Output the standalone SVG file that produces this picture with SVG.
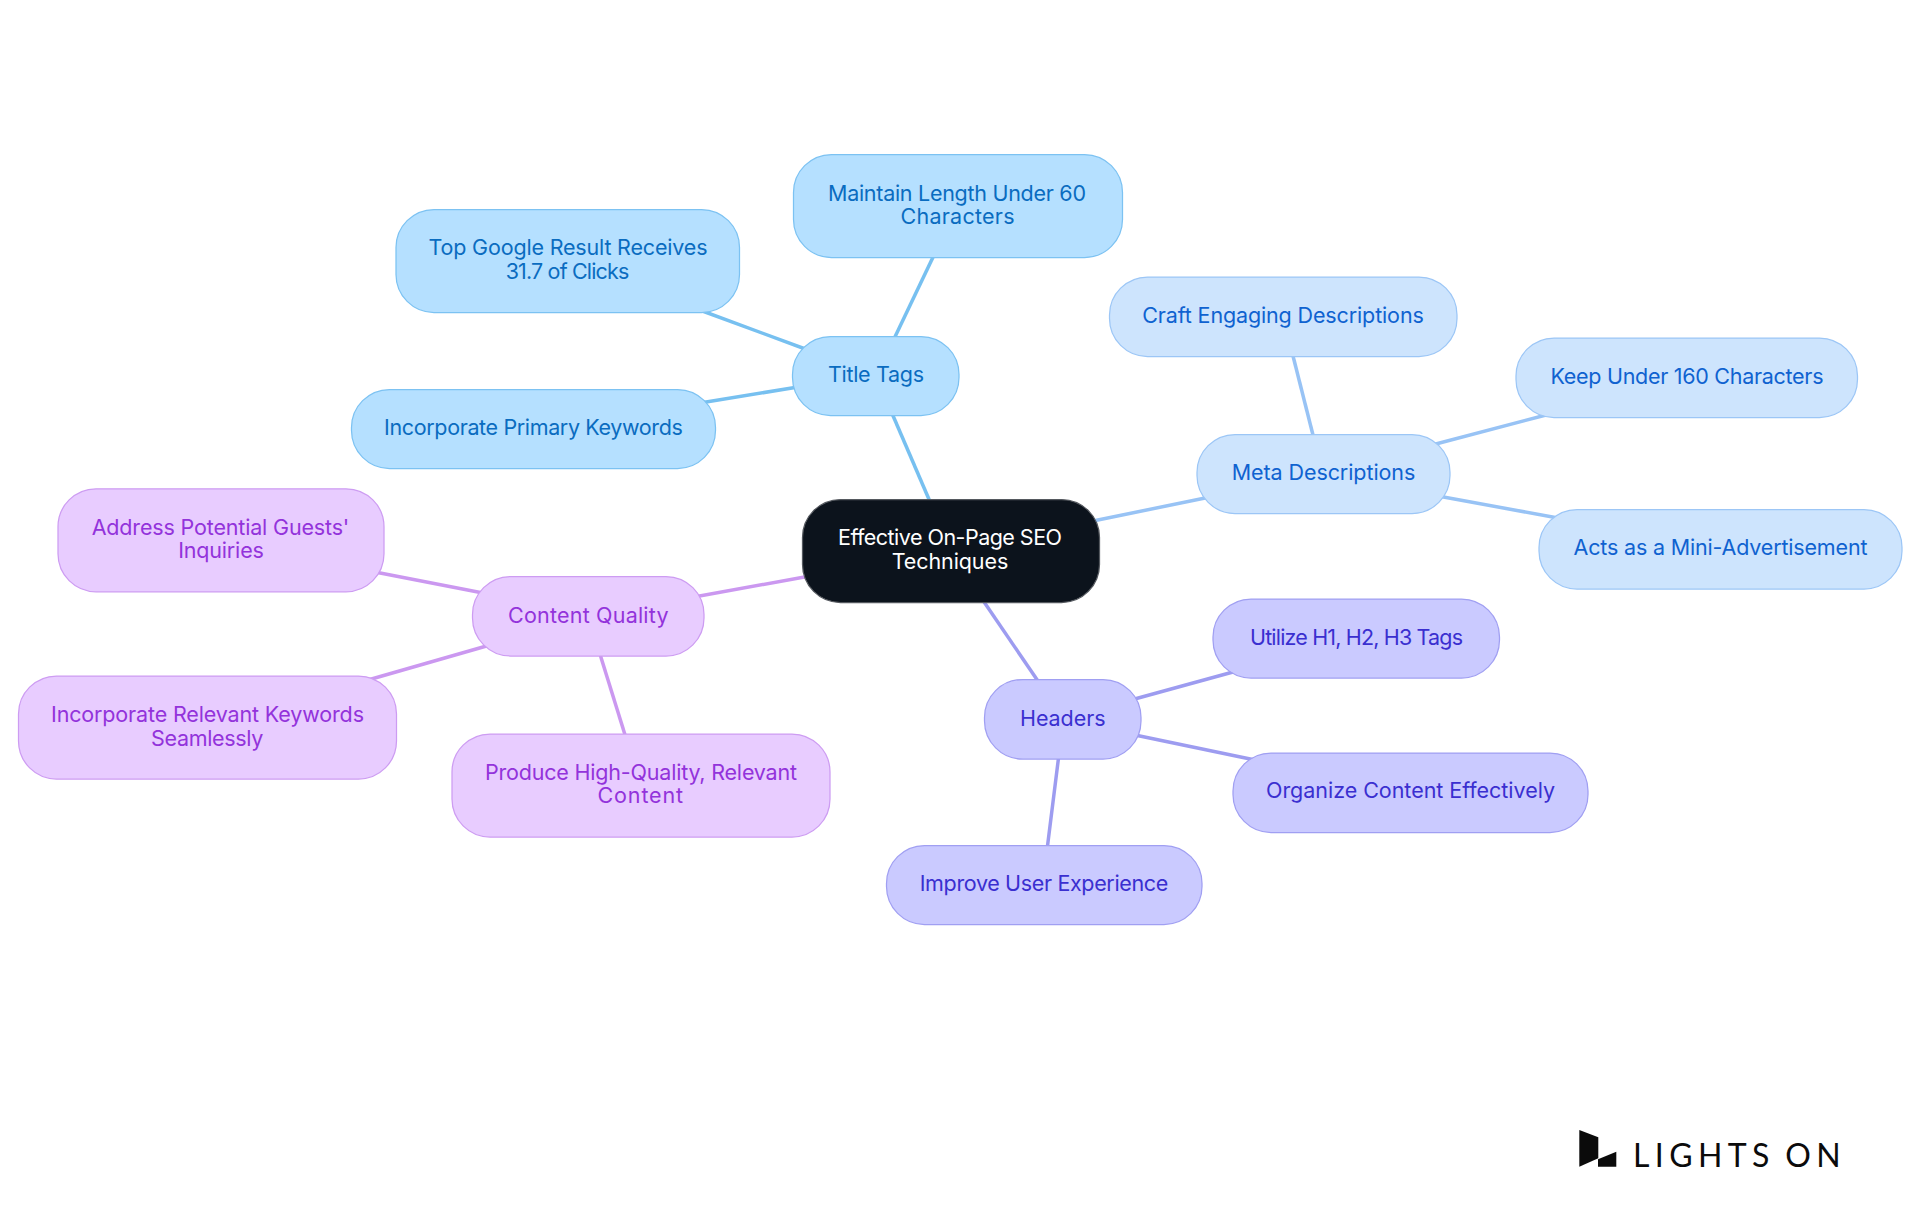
<svg xmlns="http://www.w3.org/2000/svg" width="1920" height="1215" viewBox="0 0 1920 1215">
<style>
text{font-family:"Inter","Noto Sans","Liberation Sans",sans-serif;font-size:21.5px;text-anchor:middle}
rect{stroke-width:1.25}
.r rect{fill:#0c131c;stroke:#55595f}.r text{fill:#fff}
.t rect{fill:#b5e0ff;stroke:#7cc2f2}.t text{fill:#0a6cc0}
.m rect{fill:#cde4fd;stroke:#9cc6f6}.m text{fill:#0f62d0}
.h rect{fill:#cacaff;stroke:#a09ff2}.h text{fill:#3a2fd0}
.c rect{fill:#e8ccff;stroke:#cd9cf2}.c text{fill:#9333db}
#connectors line{stroke-width:3.5;fill:none}
.lt{stroke:#77c0f0}.lm{stroke:#98c3f5}.lh{stroke:#9d9cf0}.lc{stroke:#cb98f0}
#logo text{font-family:"Lato","Liberation Sans",sans-serif;font-size:32px;fill:#0b0b0b;text-anchor:start;letter-spacing:5.4px;word-spacing:-3px}
</style>
<rect x="0" y="0" width="1920" height="1215" fill="#fff" stroke="none"/>
<g id="connectors">
<line class="lt" x1="891" y1="411" x2="931" y2="504"/>
<line class="lt" x1="935" y1="253" x2="893" y2="341"/>
<line class="lt" x1="697" y1="309" x2="808" y2="350"/>
<line class="lt" x1="700" y1="403" x2="798" y2="387"/>
<line class="lm" x1="1093" y1="521" x2="1210" y2="497"/>
<line class="lm" x1="1292" y1="352" x2="1314" y2="439"/>
<line class="lm" x1="1432" y1="445" x2="1546" y2="415"/>
<line class="lm" x1="1438" y1="496" x2="1558" y2="518"/>
<line class="lh" x1="980" y1="596" x2="1040" y2="684"/>
<line class="lh" x1="1131" y1="700" x2="1233" y2="672"/>
<line class="lh" x1="1135" y1="735" x2="1255" y2="760"/>
<line class="lh" x1="1059" y1="754" x2="1047" y2="850"/>
<line class="lc" x1="810" y1="576" x2="694" y2="597"/>
<line class="lc" x1="375" y1="572" x2="483" y2="593"/>
<line class="lc" x1="368" y1="680" x2="490" y2="645"/>
<line class="lc" x1="599" y1="651" x2="626" y2="738"/>
</g>
<g id="root" class="r"><rect x="802.5" y="499.5" width="297" height="103" rx="38"/><text x="950" y="545" textLength="224">Effective On-Page SEO</text><text x="950" y="569" textLength="116.5">Techniques</text></g>
<g id="title-tags" class="t"><rect x="792.5" y="336.5" width="166.5" height="79" rx="38"/><text x="876" y="381.5" textLength="96">Title Tags</text></g>
<g id="maintain-length" class="t"><rect x="793.5" y="154.5" width="329" height="103" rx="38"/><text x="957" y="201" textLength="258">Maintain Length Under 60</text><text x="957.5" y="224.3" textLength="114">Characters</text></g>
<g id="top-google" class="t"><rect x="396" y="209.5" width="343.5" height="103" rx="38"/><text x="568" y="254.5" textLength="279">Top Google Result Receives</text><text x="567.5" y="279" textLength="123.7">31.7 of Clicks</text></g>
<g id="primary-keywords" class="t"><rect x="351.5" y="389.5" width="364" height="79" rx="38"/><text x="533.5" y="434.5" textLength="298.8">Incorporate Primary Keywords</text></g>
<g id="meta-descriptions" class="m"><rect x="1197" y="434.5" width="253" height="79" rx="38"/><text x="1323.5" y="479.5" textLength="183.7">Meta Descriptions</text></g>
<g id="craft-engaging" class="m"><rect x="1109.5" y="277" width="347.5" height="79.5" rx="38"/><text x="1283" y="323" textLength="281.6">Craft Engaging Descriptions</text></g>
<g id="keep-under" class="m"><rect x="1516" y="338" width="341.5" height="79.5" rx="38"/><text x="1687" y="384" textLength="273">Keep Under 160 Characters</text></g>
<g id="acts-as" class="m"><rect x="1539" y="509.5" width="363" height="79.5" rx="38"/><text x="1720.5" y="554.5" textLength="293.9">Acts as a Mini-Advertisement</text></g>
<g id="headers" class="h"><rect x="984.5" y="679.5" width="156.5" height="79.5" rx="38"/><text x="1062.8" y="725.5" textLength="85.7">Headers</text></g>
<g id="utilize-tags" class="h"><rect x="1213" y="599" width="286.5" height="79" rx="38"/><text x="1356.5" y="645" textLength="213">Utilize H1, H2, H3 Tags</text></g>
<g id="organize-content" class="h"><rect x="1233" y="753" width="355" height="79.5" rx="38"/><text x="1410.5" y="797.5" textLength="289">Organize Content Effectively</text></g>
<g id="user-experience" class="h"><rect x="886.5" y="845.5" width="315.5" height="79" rx="38"/><text x="1044" y="891" textLength="248.6">Improve User Experience</text></g>
<g id="content-quality" class="c"><rect x="472.5" y="576.5" width="231.5" height="79.5" rx="38"/><text x="588.3" y="622.5" textLength="160.4">Content Quality</text></g>
<g id="address-inquiries" class="c"><rect x="58" y="488.8" width="326" height="103" rx="38"/><text x="220.5" y="535.3" textLength="257.6">Address Potential Guests'</text><text x="221" y="557.7" textLength="85.7">Inquiries</text></g>
<g id="relevant-keywords" class="c"><rect x="18.5" y="676" width="378" height="103" rx="38"/><text x="207.5" y="721.5" textLength="313">Incorporate Relevant Keywords</text><text x="207.2" y="746" textLength="112.3">Seamlessly</text></g>
<g id="produce-content" class="c"><rect x="452" y="734" width="378" height="103" rx="38"/><text x="641" y="780" textLength="312">Produce High-Quality, Relevant</text><text x="640.3" y="802.5" textLength="85.7">Content</text></g>
<g id="logo"><polygon points="1579.3,1130 1598.3,1137.3 1598.3,1158.3 1579.3,1166.7" fill="#0b0b0b"/><polygon points="1598,1159.3 1616.3,1151.7 1616.3,1166.7 1598,1166.7" fill="#0b0b0b"/><text x="1633" y="1166.7">LIGHTS ON</text></g>
</svg>
